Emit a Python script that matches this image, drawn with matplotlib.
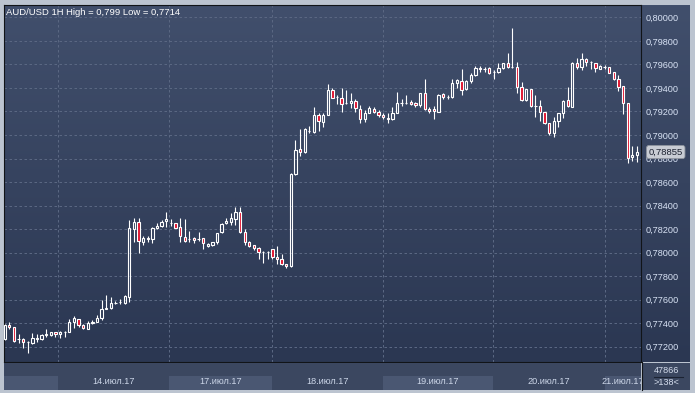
import numpy as np
import matplotlib
matplotlib.use('Agg')
import matplotlib.pyplot as plt
from matplotlib.lines import Line2D
from matplotlib.transforms import blended_transform_factory

plt.rcParams['font.family'] = ['Liberation Sans', 'DejaVu Sans']

# AUD/USD hourly candles (open, high, low, close)
opens = [0.77263, 0.77382, 0.77365, 0.77263, 0.77263, 0.77240, 0.77234, 0.77263, 0.77263, 0.77297,
         0.77302, 0.77322, 0.77305, 0.77325, 0.77322, 0.77407, 0.77433, 0.77382, 0.77353, 0.77405,
         0.77407, 0.77441, 0.77518, 0.77526, 0.77572, 0.77580, 0.77574, 0.77625, 0.78203, 0.78257,
         0.78093, 0.78116, 0.78113, 0.78206, 0.78229, 0.78266, 0.78249, 0.78249, 0.78215, 0.78135,
         0.78116, 0.78127, 0.78116, 0.78121, 0.78056, 0.78062, 0.78090, 0.78172, 0.78249, 0.78263,
         0.78286, 0.78342, 0.78178, 0.78093, 0.78062, 0.78036, 0.78008, 0.78008, 0.78028, 0.77965,
         0.77943, 0.77900, 0.77886, 0.78665, 0.78878, 0.78852, 0.79036, 0.79028, 0.79167, 0.79113,
         0.79170, 0.79382, 0.79325, 0.79317, 0.79269, 0.79269, 0.79291, 0.79218, 0.79133, 0.79189,
         0.79218, 0.79192, 0.79170, 0.79147, 0.79133, 0.79189, 0.79274, 0.79274, 0.79277, 0.79269,
         0.79252, 0.79354, 0.79221, 0.79218, 0.79192, 0.79345, 0.79325, 0.79320, 0.79439, 0.79459,
         0.79388, 0.79461, 0.79510, 0.79572, 0.79563, 0.79566, 0.79532, 0.79532, 0.79566, 0.79609,
         0.79580, 0.79580, 0.79405, 0.79297, 0.79388, 0.79246, 0.79246, 0.79192, 0.79099, 0.79014,
         0.79121, 0.79184, 0.79297, 0.79240, 0.79614, 0.79580, 0.79643, 0.79623, 0.79609, 0.79561,
         0.79580, 0.79575, 0.79532, 0.79473, 0.79416, 0.79269, 0.78810, 0.78830]
highs = [0.77390, 0.77410, 0.77365, 0.77308, 0.77274, 0.77252, 0.77317, 0.77311, 0.77305, 0.77348,
         0.77322, 0.77322, 0.77336, 0.77334, 0.77433, 0.77461, 0.77433, 0.77390, 0.77416, 0.77427,
         0.77470, 0.77597, 0.77640, 0.77620, 0.77591, 0.77608, 0.77640, 0.78277, 0.78291, 0.78291,
         0.78141, 0.78141, 0.78215, 0.78254, 0.78277, 0.78342, 0.78283, 0.78249, 0.78291, 0.78283,
         0.78184, 0.78135, 0.78178, 0.78121, 0.78084, 0.78090, 0.78169, 0.78249, 0.78291, 0.78334,
         0.78390, 0.78390, 0.78198, 0.78099, 0.78062, 0.78051, 0.78010, 0.78014, 0.78028, 0.78056,
         0.77988, 0.77900, 0.78674, 0.78957, 0.79051, 0.79056, 0.79076, 0.79235, 0.79184, 0.79189,
         0.79433, 0.79402, 0.79340, 0.79396, 0.79382, 0.79359, 0.79303, 0.79255, 0.79212, 0.79246,
         0.79240, 0.79212, 0.79184, 0.79189, 0.79240, 0.79362, 0.79303, 0.79340, 0.79297, 0.79283,
         0.79359, 0.79476, 0.79240, 0.79246, 0.79348, 0.79354, 0.79340, 0.79478, 0.79478, 0.79558,
         0.79467, 0.79524, 0.79586, 0.79586, 0.79580, 0.79575, 0.79552, 0.79609, 0.79614, 0.79694,
         0.79906, 0.79623, 0.79453, 0.79391, 0.79388, 0.79340, 0.79297, 0.79192, 0.79099, 0.79155,
         0.79184, 0.79297, 0.79410, 0.79623, 0.79651, 0.79699, 0.79651, 0.79631, 0.79614, 0.79595,
         0.79595, 0.79580, 0.79532, 0.79510, 0.79416, 0.79269, 0.78906, 0.78906]
lows = [0.77258, 0.77348, 0.77243, 0.77229, 0.77192, 0.77144, 0.77226, 0.77243, 0.77254, 0.77286,
        0.77291, 0.77283, 0.77271, 0.77286, 0.77322, 0.77356, 0.77365, 0.77353, 0.77348, 0.77393,
        0.77407, 0.77427, 0.77518, 0.77518, 0.77560, 0.77566, 0.77563, 0.77583, 0.78087, 0.77994,
        0.78062, 0.78093, 0.78084, 0.78198, 0.78220, 0.78220, 0.78229, 0.78206, 0.78093, 0.78093,
        0.78087, 0.78084, 0.78101, 0.78028, 0.78051, 0.78056, 0.78073, 0.78169, 0.78240, 0.78235,
        0.78235, 0.78169, 0.78065, 0.78051, 0.78022, 0.77948, 0.77914, 0.77948, 0.77948, 0.77903,
        0.77893, 0.77866, 0.77880, 0.78660, 0.78824, 0.78844, 0.79019, 0.79014, 0.79036, 0.79071,
        0.79170, 0.79317, 0.79260, 0.79198, 0.79260, 0.79226, 0.79198, 0.79104, 0.79107, 0.79184,
        0.79184, 0.79155, 0.79133, 0.79099, 0.79127, 0.79184, 0.79246, 0.79260, 0.79255, 0.79240,
        0.79240, 0.79212, 0.79184, 0.79133, 0.79192, 0.79308, 0.79303, 0.79317, 0.79396, 0.79340,
        0.79382, 0.79444, 0.79501, 0.79538, 0.79532, 0.79515, 0.79473, 0.79524, 0.79558, 0.79566,
        0.79572, 0.79354, 0.79289, 0.79291, 0.79240, 0.79155, 0.79119, 0.79093, 0.79000, 0.78980,
        0.79070, 0.79141, 0.79235, 0.79235, 0.79558, 0.79552, 0.79589, 0.79558, 0.79532, 0.79558,
        0.79558, 0.79524, 0.79467, 0.79376, 0.79178, 0.78765, 0.78781, 0.78773]
closes = [0.77385, 0.77365, 0.77249, 0.77265, 0.77237, 0.77241, 0.77271, 0.77274, 0.77300, 0.77311,
          0.77322, 0.77308, 0.77325, 0.77326, 0.77407, 0.77444, 0.77382, 0.77356, 0.77399, 0.77407,
          0.77444, 0.77521, 0.77529, 0.77572, 0.77573, 0.77581, 0.77631, 0.78206, 0.78257, 0.78099,
          0.78121, 0.78124, 0.78206, 0.78229, 0.78257, 0.78283, 0.78250, 0.78206, 0.78141, 0.78101,
          0.78117, 0.78107, 0.78117, 0.78079, 0.78070, 0.78090, 0.78169, 0.78243, 0.78271, 0.78291,
          0.78342, 0.78172, 0.78093, 0.78059, 0.78036, 0.78002, 0.78009, 0.78009, 0.77960, 0.77943,
          0.77903, 0.77883, 0.78668, 0.78872, 0.78852, 0.79051, 0.79037, 0.79167, 0.79116, 0.79170,
          0.79382, 0.79317, 0.79326, 0.79260, 0.79270, 0.79289, 0.79226, 0.79133, 0.79189, 0.79226,
          0.79198, 0.79170, 0.79153, 0.79133, 0.79189, 0.79269, 0.79275, 0.79275, 0.79260, 0.79252,
          0.79354, 0.79218, 0.79206, 0.79201, 0.79340, 0.79325, 0.79326, 0.79439, 0.79464, 0.79385,
          0.79459, 0.79510, 0.79566, 0.79558, 0.79564, 0.79524, 0.79533, 0.79566, 0.79609, 0.79580,
          0.79581, 0.79410, 0.79297, 0.79391, 0.79246, 0.79247, 0.79192, 0.79099, 0.79014, 0.79121,
          0.79184, 0.79289, 0.79246, 0.79614, 0.79580, 0.79643, 0.79623, 0.79624, 0.79566, 0.79586,
          0.79581, 0.79529, 0.79476, 0.79410, 0.79269, 0.78801, 0.78830, 0.78855]

price_ticks = [0.772, 0.774, 0.776, 0.778, 0.780, 0.782, 0.784, 0.786,
               0.788, 0.790, 0.792, 0.794, 0.796, 0.798, 0.800]
day_bounds = [11.55, 35.6, 57.9, 82.0, 105.8, 130.1]
day_labels = ['14.июл.17', '17.июл.17', '18.июл.17', '19.июл.17', '20.июл.17', '21.июл.17']
last_price = 0.78855
volume_text = '47866'
count_text = '>138<'
title = 'AUD/USD 1H High = 0,799 Low = 0,7714'

W, H = 695, 393
fig = plt.figure(figsize=(W / 100, H / 100), dpi=100, facecolor='#bcc4d0')


def axes_px(x0, y0, x1, y1):
    return fig.add_axes([x0 / W, 1 - y1 / H, (x1 - x0) / W, (y1 - y0) / H])


# background gradient behind plot + price column
bg = axes_px(4, 5, 690, 362)
top = np.array([0x41, 0x4f, 0x6c]) / 255
bot = np.array([0x2b, 0x37, 0x52]) / 255
t = np.linspace(0, 1, 200)[:, None]
grad = (top * (1 - t) + bot * t)[:, None, :]
bg.imshow(grad, aspect='auto', extent=(0, 1, 0, 1))
bg.axis('off')

ax = axes_px(4, 5, 641, 362)
ax.patch.set_alpha(0)
o = np.array(opens)
h = np.array(highs)
l = np.array(lows)
c = np.array(closes)
x = np.arange(len(o))
xl, xr = -0.152, 137.88
ax.set_xlim(xl, xr)
ax.set_ylim(0.77070, 0.80105)

for p in price_ticks:
    ax.axhline(p, color='#5a6782', lw=0.72, ls=(0, (2.5, 2.5)), zorder=0)
for b in day_bounds:
    ax.axvline(b, color='#5a6782', lw=0.72, ls=(0, (2.5, 2.5)), zorder=0)

body_top = np.maximum(o, c)
body_bot = np.minimum(o, c)
ax.vlines(x, body_top, h, color='white', lw=0.8, zorder=2)
ax.vlines(x, l, body_bot, color='white', lw=0.8, zorder=2)
up = c >= o
dn = ~up
ax.bar(x[up], (c - o)[up], bottom=o[up], width=0.5, facecolor='none',
       edgecolor='white', lw=0.8, zorder=3)
ax.bar(x[dn], (o - c)[dn], bottom=c[dn], width=0.5, facecolor='#e0112d',
       edgecolor='white', lw=0.8, zorder=3)

ax.set_xticks([])
ax.yaxis.tick_right()
ax.set_yticks(price_ticks)
ax.set_yticklabels([f'{p:.5f}'.replace('.', ',') for p in price_ticks])
ax.tick_params(axis='y', length=0, pad=3, labelsize=6.6, labelcolor='#d8e2f4')
for s in ax.spines.values():
    s.set_color('#111418')
    s.set_linewidth(0.8)

trans = blended_transform_factory(ax.transAxes, ax.transData)
ax.text(1.012, last_price, f'{last_price:.5f}'.replace('.', ','), transform=trans,
        ha='left', va='center', fontsize=6.8, color='#1b2130', zorder=10, clip_on=False,
        bbox=dict(boxstyle='round,pad=0.22,rounding_size=0.25', fc='#c8ccd4', ec='#8d939d', lw=0.6))

fig.text(6 / W, 1 - 12.5 / H, title, ha='left', va='center', fontsize=6.8, color='white')

# date strip
sx = axes_px(4, 363, 641, 390)
sx.set_facecolor('#3b4760')
sx.set_xlim(xl, xr)
sx.set_ylim(0, 1)
edges = [xl] + day_bounds + [xr]
for i in range(len(edges) - 1):
    if i % 2 == 0:
        sx.axvspan(edges[i], edges[i + 1], ymin=0, ymax=14 / 27, color='#4a5772', lw=0)
for i, lab in enumerate(day_labels):
    a, b = edges[i + 1], edges[i + 2]
    sx.text((a + b) / 2, 0.33, lab, ha='center', va='center', fontsize=6.6,
            color='#ccd6e8', clip_on=True)
sx.set_xticks([])
sx.set_yticks([])
for s in sx.spines.values():
    s.set_visible(False)

cx = axes_px(642, 363, 690, 390)
cx.set_facecolor('#3b4760')
cx.set_xlim(0, 1)
cx.set_ylim(0, 1)
cx.text(0.5, 0.74, volume_text, ha='center', va='center', fontsize=6.6, color='#d4dcec')
cx.plot([0.25, 0.85], [0.48, 0.48], color='#1c2333', lw=0.8)
cx.text(0.5, 0.26, count_text, ha='center', va='center', fontsize=6.6, color='#d4dcec')
cx.set_xticks([])
cx.set_yticks([])
for s in cx.spines.values():
    s.set_visible(False)

fig.add_artist(Line2D([641.5 / W] * 2, [1 - 362 / H, 1 - 390 / H], color='#111418', lw=0.8))

fig.savefig('out.png', dpi=100, facecolor=fig.get_facecolor())
